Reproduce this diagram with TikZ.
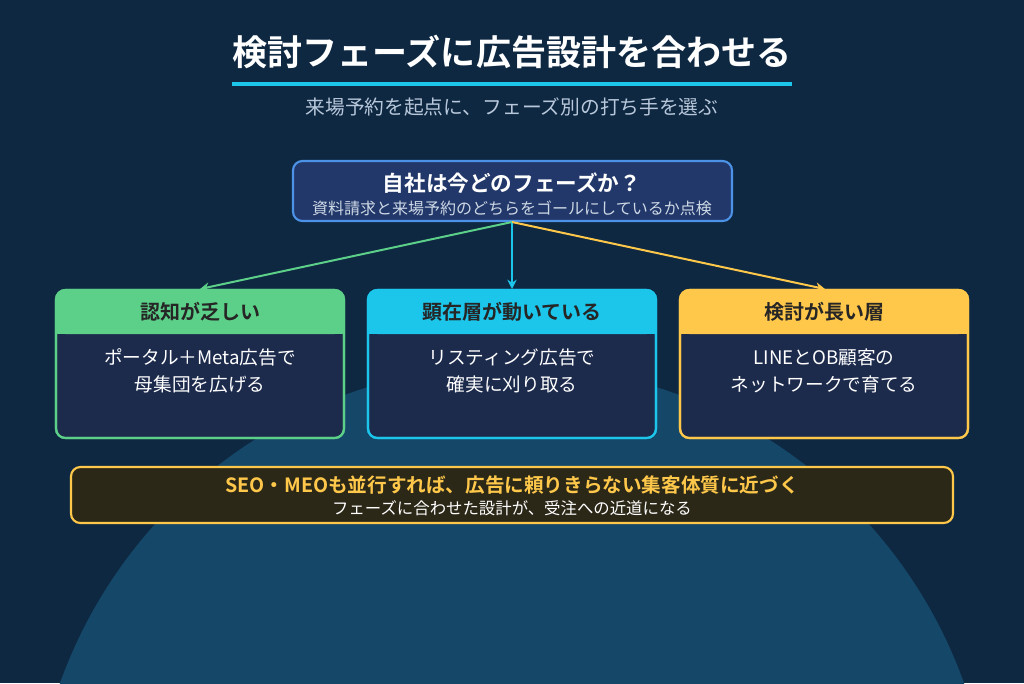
\documentclass[tikz,border=0pt]{standalone}
\usetikzlibrary{arrows.meta}
\usepackage{fontspec}
\setmainfont{Noto Sans CJK JP}
\newfontfamily\jpb{Noto Sans CJK JP Bold}
\definecolor{bg}{HTML}{0E2842}
\definecolor{circ}{HTML}{154769}
\definecolor{navy}{HTML}{1C2A4C}
\definecolor{topf}{HTML}{22386A}
\definecolor{topb}{HTML}{4C92E6}
\definecolor{cgreen}{HTML}{5CD088}
\definecolor{ccyan}{HTML}{1CC6EA}
\definecolor{cyel}{HTML}{FFC84A}
\definecolor{brown}{HTML}{2C2818}
\definecolor{sub}{HTML}{B8C8DA}
\begin{document}
\begin{tikzpicture}[x=0.75pt,y=-0.75pt,
  card/.style={rounded corners=7pt,line width=1.6pt},
  hdr/.style={font=\jpb\fontsize{15}{17}\selectfont,text=black!85},
  body/.style={font=\fontsize{14}{20}\selectfont,text=white,align=center},
  arr/.style={line width=1.5pt,-{Stealth[length=7pt,width=7pt]}}]
\fill[bg] (0,0) rectangle (1024,683);
\useasboundingbox (0,0) rectangle (1024,683);
\begin{scope}
\clip (0,0) rectangle (1024,683);
\fill[circ] (512,845) circle[radius=480];
\end{scope}
\node[font=\jpb\fontsize{26.3}{29}\selectfont,text=white] (title) at (512,52) {検討フェーズに広告設計を合わせる};
\draw[ccyan,line width=2.5pt] (232,84) -- (792,84);
\node[font=\fontsize{14.8}{17}\selectfont,text=sub] (subt) at (512,107) {来場予約を起点に、フェーズ別の打ち手を選ぶ};
% top box
\draw[card,fill=topf,draw=topb] (293,161) rectangle (732,221);
\node[font=\jpb\fontsize{16.2}{18}\selectfont,text=white] (q) at (512,183) {自社は今どのフェーズか？};
\node[font=\fontsize{12}{14}\selectfont,text=sub!70!white] (q2) at (512,208) {資料請求と来場予約のどちらをゴールにしているか点検};
\coordinate (src) at (512,222);
\coordinate (tl) at (200,289);
\coordinate (tm) at (512,289);
\coordinate (tr) at (825,289);
\draw[arr,cgreen] (src) -- (tl);
\draw[arr,ccyan] (src) -- (tm);
\draw[arr,cyel] (src) -- (tr);
% cards
\foreach \x/\c/\h/\a/\b [count=\i] in {56/cgreen/認知が乏しい/ポータル＋Meta広告で/母集団を広げる,
  368/ccyan/顕在層が動いている/リスティング広告で/確実に刈り取る,
  680/cyel/検討が長い層/LINEとOB顧客の/ネットワークで育てる}{
  \draw[card,fill=navy,draw=\c] (\x,290) rectangle ++(288,148);
  \fill[\c,rounded corners=7pt] (\x,290) rectangle ++(288,44);
  \fill[\c] (\x,315) rectangle ++(288,19);
  \draw[\c,line width=1.6pt,rounded corners=7pt] (\x,290) rectangle ++(288,148);
  \node[hdr] (h\i) at (\x+144,312) {\h};
  \node[body] (b\i) at (\x+144,371) {\a\\\b};
}
% bottom
\draw[card,fill=brown,draw=cyel] (71,467) rectangle (953,523);
\node[font=\jpb\fontsize{14.7}{16}\selectfont,text=cyel] (n1) at (512,485) {SEO・MEOも並行すれば、広告に頼りきらない集客体質に近づく};
\node[font=\fontsize{12.3}{14}\selectfont,text=white] (n2) at (512,508) {フェーズに合わせた設計が、受注への近道になる};
\end{tikzpicture}
\end{document}
